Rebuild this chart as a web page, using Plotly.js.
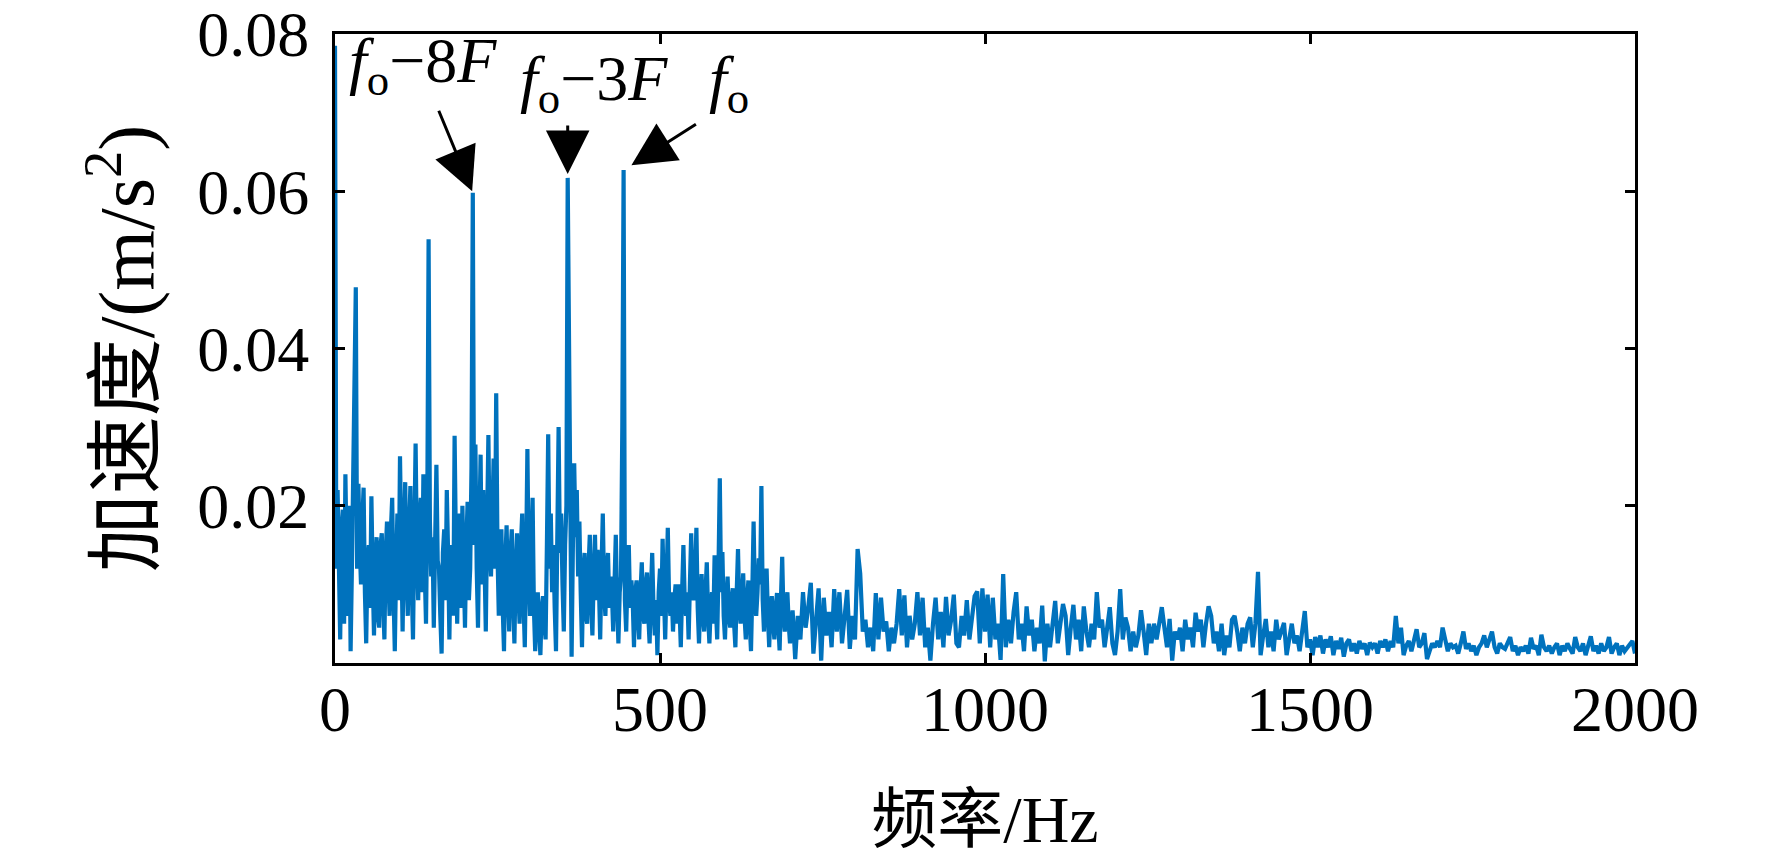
<!DOCTYPE html>
<html>
<head>
<meta charset="utf-8">
<script src="https://cdn.plot.ly/plotly-3.0.1.min.js"></script>
<style>html,body{margin:0;padding:0;background:#fff;}#chart{width:1772px;height:856px;}</style>
</head>
<body>
<div id="chart"></div>
<script>
// Spectrum bins: dense 2 Hz bins up to 700 Hz, 4 Hz bins above
const band0Start = 0,    band0Step = 2;
const band1Start = 700,  band1Step = 4;
const band2Start = 1000, band2Step = 4;
const band3Start = 1500, band3Step = 4;

// acceleration amplitude (m/s^2), 0–698 Hz (2 Hz bins)
const accel_0_700 = [
  0.0785,0.0120,0.0220,0.0140,0.0030,0.0170,0.0195,0.0050,0.0240,0.0130,0.0060,0.0200,0.0015,0.0120,0.0230,0.0350,0.0478,0.0120,0.0228,0.0150,0.0100,0.0180,0.0223,0.0090,0.0025,
  0.0130,0.0150,0.0070,0.0212,0.0110,0.0035,0.0120,0.0160,0.0060,0.0045,0.0150,0.0165,0.0080,0.0030,0.0140,0.0180,0.0110,0.0060,0.0170,0.0210,0.0090,0.0015,0.0120,0.0190,0.0080,
  0.0263,0.0150,0.0040,0.0160,0.0230,0.0110,0.0060,0.0170,0.0225,0.0100,0.0030,0.0160,0.0279,0.0140,0.0080,0.0180,0.0210,0.0090,0.0240,0.0120,0.0050,0.0200,0.0539,0.0180,0.0110,
  0.0160,0.0045,0.0150,0.0252,0.0130,0.0120,0.0060,0.0012,0.0140,0.0170,0.0080,0.0220,0.0140,0.0030,0.0150,0.0140,0.0060,0.0289,0.0150,0.0050,0.0160,0.0190,0.0070,0.0200,0.0120,
  0.0045,0.0150,0.0205,0.0080,0.0120,0.0250,0.0598,0.0150,0.0278,0.0120,0.0045,0.0170,0.0265,0.0100,0.0220,0.0130,0.0040,0.0180,0.0290,0.0150,0.0110,0.0180,0.0260,0.0120,0.0343,
  0.0140,0.0060,0.0150,0.0170,0.0070,0.0015,0.0130,0.0175,0.0090,0.0040,0.0140,0.0170,0.0080,0.0025,0.0120,0.0165,0.0090,0.0050,0.0150,0.0190,0.0080,0.0020,0.0130,0.0272,0.0120,
  0.0060,0.0140,0.0210,0.0070,0.0015,0.0080,0.0090,0.0040,0.0010,0.0070,0.0085,0.0050,0.0030,0.0150,0.0291,0.0120,0.0190,0.0090,0.0150,0.0070,0.0015,0.0160,0.0300,0.0140,0.0190,
  0.0100,0.0040,0.0150,0.0200,0.0617,0.0350,0.0100,0.0008,0.0150,0.0254,0.0160,0.0220,0.0110,0.0180,0.0090,0.0020,0.0110,0.0140,0.0060,0.0050,0.0120,0.0163,0.0080,0.0035,0.0110,
  0.0163,0.0080,0.0144,0.0100,0.0030,0.0120,0.0190,0.0090,0.0060,0.0120,0.0140,0.0070,0.0110,0.0090,0.0040,0.0100,0.0163,0.0080,0.0025,0.0090,0.0110,0.0300,0.0627,0.0080,0.0040,
  0.0110,0.0150,0.0070,0.0105,0.0080,0.0020,0.0090,0.0105,0.0060,0.0030,0.0090,0.0128,0.0060,0.0050,0.0100,0.0115,0.0060,0.0025,0.0090,0.0140,0.0070,0.0035,0.0080,0.0010,0.0090,
  0.0120,0.0060,0.0158,0.0090,0.0030,0.0100,0.0172,0.0080,0.0060,0.0090,0.0040,0.0080,0.0100,0.0050,0.0100,0.0070,0.0020,0.0090,0.0150,0.0080,0.0060,0.0090,0.0030,0.0100,0.0165,
  0.0090,0.0080,0.0110,0.0172,0.0070,0.0025,0.0080,0.0113,0.0060,0.0040,0.0090,0.0128,0.0060,0.0025,0.0070,0.0090,0.0050,0.0137,0.0070,0.0030,0.0120,0.0235,0.0090,0.0141,0.0060,
  0.0030,0.0080,0.0110,0.0060,0.0045,0.0080,0.0095,0.0050,0.0020,0.0090,0.0145,0.0070,0.0050,0.0080,0.0114,0.0060,0.0030,0.0080,0.0105,0.0050,0.0015,0.0090,0.0180,0.0080,0.0060,
  0.0090,0.0133,0.0100,0.0225,0.0080,0.0040,0.0090,0.0120,0.0060,0.0020,0.0070,0.0085,0.0050,0.0030,0.0070,0.0089,0.0050,0.0016,0.0080,0.0135,0.0060,0.0040,0.0070,0.0090,0.0050
];
// 700–996 Hz (4 Hz bins)
const accel_700_1000 = [
  0.0025,0.0067,0.0005,0.0060,0.0030,0.0090,0.0045,0.0070,0.0102,0.0012,0.0060,0.0095,0.0003,0.0083,0.0035,0.0065,0.0020,0.0094,0.0040,0.0090,0.0025,0.0055,0.0093,0.0018,0.0060,
  0.0030,0.0145,0.0114,0.0040,0.0055,0.0020,0.0045,0.0015,0.0089,0.0030,0.0083,0.0040,0.0053,0.0015,0.0045,0.0025,0.0050,0.0094,0.0035,0.0086,0.0020,0.0060,0.0030,0.0050,0.0090,
  0.0035,0.0083,0.0020,0.0045,0.0003,0.0050,0.0083,0.0030,0.0065,0.0020,0.0084,0.0035,0.0055,0.0087,0.0025,0.0020,0.0060,0.0035,0.0080,0.0030,0.0055,0.0085,0.0091,0.0025,0.0095
];
// 1000–1496 Hz (4 Hz bins)
const accel_1000_1500 = [
  0.0040,0.0087,0.0020,0.0083,0.0030,0.0050,0.0004,0.0113,0.0020,0.0055,0.0025,0.0065,0.0090,0.0030,0.0050,0.0015,0.0072,0.0035,0.0055,0.0015,0.0045,0.0025,0.0073,0.0002,0.0050,
  0.0020,0.0055,0.0079,0.0025,0.0050,0.0075,0.0060,0.0010,0.0045,0.0074,0.0030,0.0055,0.0015,0.0072,0.0040,0.0020,0.0050,0.0030,0.0090,0.0045,0.0055,0.0020,0.0045,0.0071,0.0025,
  0.0010,0.0040,0.0094,0.0030,0.0058,0.0045,0.0015,0.0040,0.0020,0.0035,0.0067,0.0040,0.0010,0.0050,0.0025,0.0050,0.0030,0.0050,0.0071,0.0045,0.0020,0.0056,0.0003,0.0040,0.0030,
  0.0045,0.0015,0.0055,0.0030,0.0045,0.0020,0.0064,0.0040,0.0055,0.0020,0.0050,0.0072,0.0060,0.0025,0.0040,0.0015,0.0050,0.0010,0.0035,0.0020,0.0055,0.0060,0.0040,0.0015,0.0045,
  0.0025,0.0050,0.0058,0.0020,0.0050,0.0116,0.0010,0.0035,0.0056,0.0020,0.0040,0.0015,0.0055,0.0030,0.0040,0.0051,0.0010,0.0030,0.0050,0.0025,0.0035,0.0015,0.0045,0.0066,0.0020
];
// 1500–2000 Hz (4 Hz bins)
const accel_1500_2000 = [
  0.0030,0.0010,0.0033,0.0020,0.0035,0.0012,0.0030,0.0020,0.0034,0.0010,0.0028,0.0018,0.0032,0.0008,0.0025,0.0030,0.0015,0.0025,0.0012,0.0028,0.0018,0.0025,0.0010,0.0026,0.0020,
  0.0025,0.0012,0.0028,0.0020,0.0030,0.0015,0.0028,0.0020,0.0060,0.0025,0.0045,0.0010,0.0022,0.0028,0.0015,0.0030,0.0043,0.0020,0.0025,0.0038,0.0005,0.0015,0.0025,0.0020,0.0028,
  0.0020,0.0045,0.0030,0.0015,0.0025,0.0020,0.0022,0.0012,0.0025,0.0040,0.0018,0.0025,0.0015,0.0022,0.0010,0.0020,0.0025,0.0035,0.0020,0.0030,0.0040,0.0020,0.0012,0.0025,0.0020,
  0.0018,0.0025,0.0033,0.0015,0.0022,0.0010,0.0020,0.0015,0.0022,0.0012,0.0032,0.0018,0.0022,0.0010,0.0036,0.0020,0.0015,0.0022,0.0012,0.0020,0.0025,0.0010,0.0022,0.0015,0.0025,
  0.0018,0.0012,0.0033,0.0020,0.0015,0.0025,0.0010,0.0020,0.0034,0.0015,0.0022,0.0012,0.0025,0.0015,0.0020,0.0033,0.0012,0.0020,0.0025,0.0010,0.0022,0.0015,0.0020,0.0025,0.0028,0.0012
];

const xTickVals = [0, 500, 1000, 1500, 2000];
const xTickText = ['0', '500', '1000', '1500', '2000'];
const yTickVals = [0.02, 0.04, 0.06, 0.08];
const yTickText = ['0.02', '0.04', '0.06', '0.08'];

const xTitle = '频率/Hz';
const yTitle = '加速度/(m/s<sup>2</sup>)';

// annotated peaks: label text, arrow tip (Hz, m/s^2)
const peakLabels = ['<i>f</i><sub>o</sub>−8<i>F</i>', '<i>f</i><sub>o</sub>−3<i>F</i>', '<i>f</i><sub>o</sub>'];
const arrowTipHz = [211, 358, 456];
const arrowTipAmp = [0.0600, 0.0622, 0.0633];

// build x/y from bands
const freq = [], accel = [];
[[band0Start, band0Step, accel_0_700], [band1Start, band1Step, accel_700_1000],
 [band2Start, band2Step, accel_1000_1500], [band3Start, band3Step, accel_1500_2000]]
  .forEach(([start, step, arr]) => arr.forEach((v, i) => { freq.push(start + i * step); accel.push(v); }));

const FONT = '"Liberation Serif", "Times New Roman", "Noto Sans CJK SC", serif';

const trace = {
  x: freq, y: accel, type: 'scatter', mode: 'lines',
  line: {color: '#0072BD', width: 4.2}, hoverinfo: 'skip'
};

// annotation placement (pixel offsets of arrow tails, label anchor in axis units)
const arrowTail = [[-34, -82], [0, -50], [66, -42]];
const labelPos = [[18, 0.0760], [281, 0.0738], [573, 0.0738]];

const annotations = [];
peakLabels.forEach((lbl, i) => {
  annotations.push({
    x: arrowTipHz[i], y: arrowTipAmp[i], xref: 'x', yref: 'y',
    text: '', showarrow: true, arrowhead: 2, arrowsize: 2.9, arrowwidth: 3,
    arrowcolor: '#000', ax: arrowTail[i][0], ay: arrowTail[i][1], standoff: 0
  });
  annotations.push({
    x: labelPos[i][0], y: labelPos[i][1], xref: 'x', yref: 'y',
    text: lbl, showarrow: false, xanchor: 'left', yanchor: 'middle',
    font: {family: FONT, size: 64, color: '#000'}
  });
});

const layout = {
  width: 1772, height: 856,
  margin: {l: 335, r: 137, t: 34, b: 193},
  paper_bgcolor: '#fff', plot_bgcolor: '#fff',
  showlegend: false,
  font: {family: FONT, size: 64, color: '#000'},
  xaxis: {
    range: [0, 2000], tickvals: xTickVals, ticktext: xTickText,
    showline: true, linecolor: '#000', linewidth: 3, mirror: 'ticks',
    ticks: 'inside', ticklen: 10, tickwidth: 3, tickcolor: '#000',
    showgrid: false, zeroline: false, ticklabelstandoff: -12, ticklabeloverflow: 'allow',
    tickfont: {family: FONT, size: 64, color: '#000'},
    title: {text: xTitle, font: {family: FONT, size: 66, color: '#000'}, standoff: 56},
    automargin: false
  },
  yaxis: {
    range: [0, 0.080001], tickvals: yTickVals, ticktext: yTickText,
    showline: true, linecolor: '#000', linewidth: 3, mirror: 'ticks',
    ticks: 'inside', ticklen: 10, tickwidth: 3, tickcolor: '#000',
    showgrid: false, zeroline: false, ticklabelstandoff: 10, ticklabeloverflow: 'allow',
    tickfont: {family: FONT, size: 64, color: '#000'},
    title: {text: yTitle, font: {family: FONT, size: 78, color: '#000'}, standoff: 18},
    automargin: false
  },
  annotations: annotations
};

Plotly.newPlot('chart', [trace], layout, {displayModeBar: false, staticPlot: true});
</script>
</body>
</html>
